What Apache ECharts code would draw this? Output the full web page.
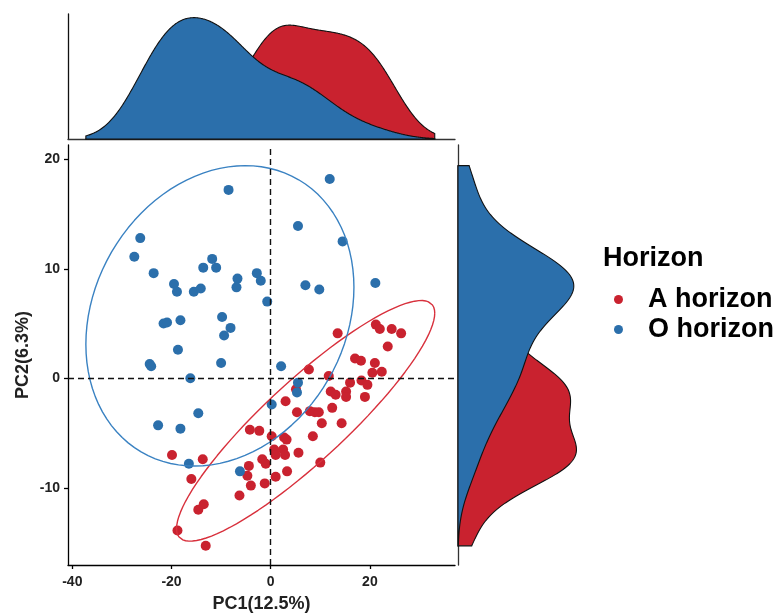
<!DOCTYPE html>
<html><head><meta charset="utf-8">
<script src="https://cdn.jsdelivr.net/npm/echarts@6/dist/echarts.min.js"></script>
<style>html,body{margin:0;padding:0;background:#fff}#c{width:780px;height:614px}</style>
</head><body><div id="c"></div>
<script>
// ---- data ----
const groups = ['A horizon', 'O horizon'];
const legendTitle = 'Horizon';
const xName = 'PC1(12.5%)';
const yName = 'PC2(6.3%)';
const xTicks = [-40, -20, 0, 20];
const yTicks = [-10, 0, 10, 20];

const aX = [21.2,22.0,24.4,26.3,13.5,23.6,17.0,18.2,21.0,20.5,22.4,7.7,11.7,5.1,16.0,18.3,19.5,12.1,13.1,15.2,15.2,19.0,3.0,12.4,5.3,7.9,8.9,9.7,10.3,14.3,8.5,0.2,2.7,3.2,0.7,2.5,5.6,1.0,2.9,-1.7,-1.0,10.0,3.3,1.0,-1.2,-4.2,-2.3,-4.4,-4.7,-4.0,-6.3,-14.6,-13.5,-18.8,-13.1,-19.9,-13.7,-16.0];
const aY = [4.9,4.5,4.5,4.1,4.1,2.9,1.8,1.6,1.4,0.5,0.6,0.8,0.2,-1.0,-0.4,-0.2,-0.6,-1.2,-1.5,-1.2,-1.7,-1.7,-2.1,-2.7,-3.1,-3.0,-3.1,-3.1,-4.1,-4.1,-5.3,-5.3,-5.4,-5.6,-6.5,-6.5,-6.8,-7.0,-7.0,-7.4,-7.8,-7.7,-8.5,-9.0,-9.6,-4.7,-4.8,-8.0,-8.9,-9.8,-10.7,-12.0,-11.5,-13.9,-15.3,-7.0,-7.4,-9.2];

const oX = [-8.5,-26.3,-27.5,-23.6,-11.8,-13.6,-11.0,-19.5,-18.9,-15.5,-14.1,-6.7,-6.9,-2.8,-2.0,-0.7,-21.6,-20.9,-18.2,-9.8,-8.1,-9.4,-18.7,-24.4,-24.1,-10.0,-16.2,2.1,11.9,5.5,14.5,7.0,9.8,21.1,5.5,5.3,0.2,-14.6,-22.7,-18.2,-16.5,-6.2];
const oY = [17.2,12.8,11.1,9.6,10.9,10.1,10.1,8.6,7.9,7.9,8.2,9.1,8.3,9.6,8.9,7.0,5.0,5.1,5.3,5.6,4.6,3.9,2.6,1.3,1.1,1.4,0.0,1.1,18.2,13.9,12.5,8.5,8.1,8.7,-0.4,-1.3,-2.4,-3.2,-4.3,-4.6,-7.8,-8.5];

const colors = ['#C9222F', '#2B6FAB'];

// ---- helpers (stat computations, as ggplot2 stat_ellipse / stat_density) ----
const sum = a => a.reduce((s, v) => s + v, 0);
const mean = a => sum(a) / a.length;
function cov(x, y) { const mx = mean(x), my = mean(y); let s = 0; for (let i = 0; i < x.length; i++) s += (x[i] - mx) * (y[i] - my); return s / (x.length - 1); }
function quantile(a, p) { const s = a.slice().sort((u, v) => u - v); const h = (s.length - 1) * p; const lo = Math.floor(h); return lo + 1 < s.length ? s[lo] + (h - lo) * (s[lo + 1] - s[lo]) : s[lo]; }
function bwNrd0(x) { const sd = Math.sqrt(cov(x, x)); const iqr = quantile(x, 0.75) - quantile(x, 0.25); return 0.9 * Math.min(sd, iqr / 1.34) * Math.pow(x.length, -0.2); }

// robust multivariate t estimate (MASS::cov.trob, nu = 5)
function covTrob(x, y) {
  const n = x.length, p = 2, nu = 5;
  let loc = [mean(x), mean(y)], w = new Array(n).fill(1), X = [];
  for (let iter = 0; iter < 25; iter++) {
    const w0 = w.slice();
    X = x.map((v, i) => [v - loc[0], y[i] - loc[1]]);
    const sw = sum(w);
    let a = 0, b = 0, c = 0;
    for (let i = 0; i < n; i++) { a += w[i] * X[i][0] * X[i][0]; b += w[i] * X[i][0] * X[i][1]; c += w[i] * X[i][1] * X[i][1]; }
    a /= sw; b /= sw; c /= sw;
    const det = a * c - b * b;
    const Q = X.map(r => (c * r[0] * r[0] - 2 * b * r[0] * r[1] + a * r[1] * r[1]) / det);
    w = Q.map(q => (nu + p) / (nu + q));
    const sw2 = sum(w);
    loc = [sum(x.map((v, i) => w[i] * v)) / sw2, sum(y.map((v, i) => w[i] * v)) / sw2];
    if (w.every((v, i) => Math.abs(v - w0[i]) < 0.01)) break;
  }
  let a = 0, b = 0, c = 0;
  for (let i = 0; i < n; i++) { a += w[i] * X[i][0] * X[i][0]; b += w[i] * X[i][0] * X[i][1]; c += w[i] * X[i][1] * X[i][1]; }
  return { center: loc, a: a / n, b: b / n, c: c / n };
}
function ellipse(x, y, level) {
  const n = x.length, d = n - 1;
  const q = (d / 2) * (Math.pow(1 - level, -2 / d) - 1);  // qf(level, 2, n-1)
  const r = Math.sqrt(2 * q);
  const v = covTrob(x, y);
  const u11 = Math.sqrt(v.a), u12 = v.b / u11, u22 = Math.sqrt(v.c - u12 * u12);
  const pts = [];
  for (let i = 0; i <= 100; i++) {
    const t = 2 * Math.PI * i / 100, ct = Math.cos(t), st = Math.sin(t);
    pts.push([v.center[0] + r * ct * u11, v.center[1] + r * (ct * u12 + st * u22)]);
  }
  return pts;
}
function kde(x, from, to) {
  const h = bwNrd0(x), N = 512, out = [];
  for (let i = 0; i < N; i++) {
    const g = from + (to - from) * i / (N - 1); let s = 0;
    for (const v of x) { const z = (g - v) / h; s += Math.exp(-0.5 * z * z); }
    out.push([g, s / (x.length * h * Math.sqrt(2 * Math.PI))]);
  }
  return out;
}

const ellA = ellipse(aX, aY, 0.95);
const ellO = ellipse(oX, oY, 0.95);
const allX = aX.concat(oX, ellA.map(p => p[0]), ellO.map(p => p[0]));
const allY = aY.concat(oY, ellA.map(p => p[1]), ellO.map(p => p[1]));
const xr = [Math.min(...allX), Math.max(...allX)];
const yr = [Math.min(...allY), Math.max(...allY)];
const dxA = kde(aX, xr[0], xr[1]), dxO = kde(oX, xr[0], xr[1]);
const dyA = kde(aY, yr[0], yr[1]).map(p => [p[1], p[0]]);
const dyO = kde(oY, yr[0], yr[1]).map(p => [p[1], p[0]]);

// ---- chart ----
const XMIN = -40.87, XMAX = 37.16, YMIN = -17.05, YMAX = 21.3;
const FONT = '"Liberation Sans", Arial, sans-serif';

function densSeries(curve, color, idx, vertical) {
  return {
    type: 'custom', xAxisIndex: idx, yAxisIndex: idx, data: curve, silent: true,
    encode: { x: 0, y: 1 },
    renderItem: function (params, api) {
      if (params.dataIndex !== 0) return null;
      const pts = curve.map(p => api.coord(p));
      const f = curve[0], l = curve[curve.length - 1];
      const b0 = vertical ? api.coord([0, f[1]]) : api.coord([f[0], 0]);
      const b1 = vertical ? api.coord([0, l[1]]) : api.coord([l[0], 0]);
      return { type: 'polygon', shape: { points: [b0].concat(pts, [b1]) },
        style: { fill: color, stroke: '#111', lineWidth: 1.1 } };
    }
  };
}

const chart = echarts.init(document.getElementById('c'), null, { renderer: 'canvas' });
const axisLineStyle = { color: '#000', width: 1.3 };
chart.setOption({
  animation: false,
  textStyle: { fontFamily: FONT },
  title: { text: legendTitle, left: 598, top: 240, textStyle: { fontFamily: FONT, fontSize: 27, fontWeight: 'bold', color: '#000' } },
  legend: {
    data: groups, orient: 'vertical', left: 609, top: 281, itemGap: 3,
    icon: 'circle', itemWidth: 9, itemHeight: 9,
    textStyle: { fontFamily: FONT, fontSize: 27, fontWeight: 'bold', color: '#000', padding: [0, 0, 0, 20] }
  },
  grid: [
    { left: 68, top: 145, width: 387, height: 420, outerBoundsMode: 'none' },
    { left: 68, top: 14, width: 387, height: 125, outerBoundsMode: 'none' },
    { left: 458, top: 145, width: 122, height: 420, outerBoundsMode: 'none' }
  ],
  xAxis: [
    { gridIndex: 0, type: 'value', min: XMIN, max: XMAX, splitLine: { show: false },
      axisLine: { onZero: false, lineStyle: axisLineStyle },
      axisTick: { customValues: xTicks, length: 4, lineStyle: axisLineStyle },
      axisLabel: { customValues: xTicks, color: '#222', fontSize: 14, fontWeight: 'bold', margin: 10, fontFamily: FONT },
      name: xName, nameLocation: 'middle', nameGap: 30,
      nameTextStyle: { fontSize: 18, fontWeight: 'bold', color: '#222', fontFamily: FONT } },
    { gridIndex: 1, type: 'value', min: XMIN, max: XMAX, splitLine: { show: false },
      axisLine: { onZero: false, lineStyle: { color: '#333', width: 1.3 } }, axisTick: { show: false }, axisLabel: { show: false } },
    { gridIndex: 2, type: 'value', min: 0, max: v => v.max * 1.03, splitLine: { show: false },
      axisLine: { show: false }, axisTick: { show: false }, axisLabel: { show: false } }
  ],
  yAxis: [
    { gridIndex: 0, type: 'value', min: YMIN, max: YMAX, splitLine: { show: false },
      axisLine: { onZero: false, lineStyle: axisLineStyle },
      axisTick: { customValues: yTicks, length: 4, lineStyle: axisLineStyle },
      axisLabel: { customValues: yTicks, color: '#222', fontSize: 14, fontWeight: 'bold', margin: 8, fontFamily: FONT },
      name: yName, nameLocation: 'middle', nameGap: 36, nameRotate: 90,
      nameTextStyle: { fontSize: 18, fontWeight: 'bold', color: '#222', fontFamily: FONT } },
    { gridIndex: 1, type: 'value', min: 0, max: v => v.max * 1.03, splitLine: { show: false },
      axisLine: { onZero: false, lineStyle: { color: '#111', width: 1.3 } }, axisTick: { show: false }, axisLabel: { show: false } },
    { gridIndex: 2, type: 'value', min: YMIN, max: YMAX, splitLine: { show: false },
      axisLine: { onZero: false, lineStyle: { color: '#333', width: 1.3 } }, axisTick: { show: false }, axisLabel: { show: false } }
  ],
  series: [
    { name: groups[0], type: 'scatter', xAxisIndex: 0, yAxisIndex: 0, symbolSize: 10,
      itemStyle: { color: colors[0], opacity: 1 }, data: aX.map((v, i) => [v, aY[i]]), z: 2 },
    { name: groups[1], type: 'scatter', xAxisIndex: 0, yAxisIndex: 0, symbolSize: 10,
      itemStyle: { color: colors[1], opacity: 1 }, data: oX.map((v, i) => [v, oY[i]]), z: 2 },
    { name: 'ellA', type: 'line', xAxisIndex: 0, yAxisIndex: 0, data: ellA, showSymbol: false, silent: true,
      lineStyle: { color: '#D8303C', width: 1.4 }, z: 3 },
    { name: 'ellO', type: 'line', xAxisIndex: 0, yAxisIndex: 0, data: ellO, showSymbol: false, silent: true,
      lineStyle: { color: '#3A82C2', width: 1.4 }, z: 3,
      markLine: { silent: true, symbol: 'none', label: { show: false },
        lineStyle: { color: '#111', type: [6, 4], width: 1.4 },
        data: [{ xAxis: 0 }, { yAxis: 0 }] } },
    densSeries(dxA, colors[0], 1, false),
    densSeries(dxO, colors[1], 1, false),
    densSeries(dyA, colors[0], 2, true),
    densSeries(dyO, colors[1], 2, true)
  ]
});
</script>
</body></html>
